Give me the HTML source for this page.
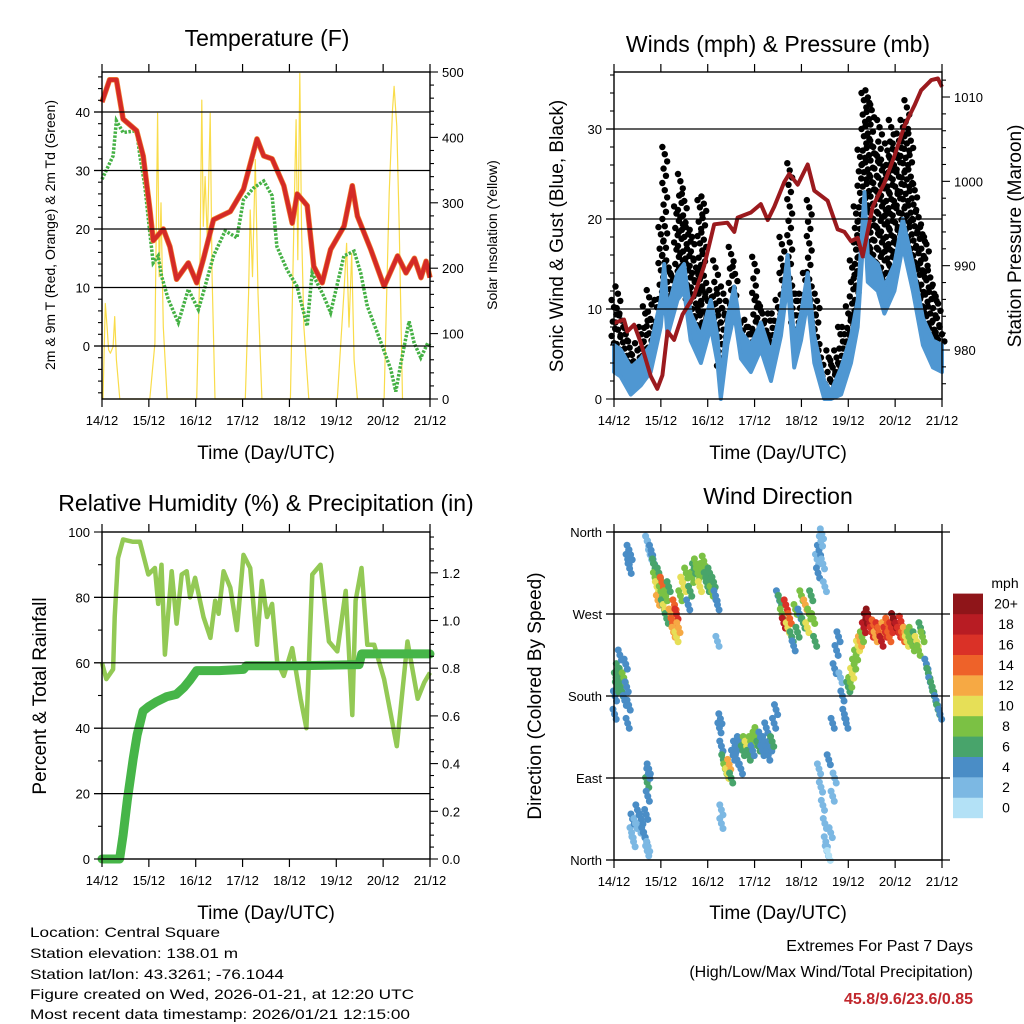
<!DOCTYPE html>
<html><head><meta charset="utf-8"><title>Station Meteogram</title>
<style>
html,body{margin:0;padding:0;background:#fff;}
svg{display:block;font-family:"Liberation Sans",Arial,sans-serif;}
</style></head>
<body>
<svg id="chart" xmlns="http://www.w3.org/2000/svg" width="1024" height="1024" viewBox="0 0 1024 1024">
<rect width="1024" height="1024" fill="#fff"/>
<text x="267" y="46" font-size="23" text-anchor="middle">Temperature (F)</text>
<text x="778" y="52" font-size="23" text-anchor="middle">Winds (mph) &amp; Pressure (mb)</text>
<text x="266" y="511" font-size="23" text-anchor="middle">Relative Humidity (%) &amp; Precipitation (in)</text>
<text x="778" y="504" font-size="23" text-anchor="middle">Wind Direction</text>
<text x="266" y="459" font-size="19" text-anchor="middle">Time (Day/UTC)</text>
<text x="778" y="459" font-size="19" text-anchor="middle">Time (Day/UTC)</text>
<text x="266" y="919" font-size="19" text-anchor="middle">Time (Day/UTC)</text>
<text x="778" y="919" font-size="19" text-anchor="middle">Time (Day/UTC)</text>
<text transform="translate(55,235) rotate(-90)" font-size="14" text-anchor="middle">2m &amp; 9m T (Red, Orange) &amp; 2m Td (Green)</text>
<text transform="translate(497,235) rotate(-90)" font-size="14" text-anchor="middle">Solar Insolation (Yellow)</text>
<text transform="translate(563,236) rotate(-90)" font-size="19" text-anchor="middle">Sonic Wind &amp; Gust (Blue, Black)</text>
<text transform="translate(1021,236) rotate(-90)" font-size="19" text-anchor="middle">Station Pressure (Maroon)</text>
<text transform="translate(46,696) rotate(-90)" font-size="19" text-anchor="middle">Percent &amp; Total Rainfall</text>
<text transform="translate(541,696) rotate(-90)" font-size="19" text-anchor="middle">Direction (Colored By Speed)</text>
<g font-size="14">
<text x="30" y="937" textLength="190" lengthAdjust="spacingAndGlyphs">Location: Central Square</text>
<text x="30" y="958" textLength="208" lengthAdjust="spacingAndGlyphs">Station elevation: 138.01 m</text>
<text x="30" y="979" textLength="254" lengthAdjust="spacingAndGlyphs">Station lat/lon: 43.3261; -76.1044</text>
<text x="30" y="999" textLength="384" lengthAdjust="spacingAndGlyphs">Figure created on Wed, 2026-01-21, at 12:20 UTC</text>
<text x="30" y="1019" textLength="380" lengthAdjust="spacingAndGlyphs">Most recent data timestamp: 2026/01/21 12:15:00</text>
</g>
<g font-size="16" text-anchor="end">
<text x="973" y="951">Extremes For Past 7 Days</text>
<text x="973" y="977">(High/Low/Max Wind/Total Precipitation)</text>
<text x="973" y="1004" fill="#c1272d" font-weight="bold">45.8/9.6/23.6/0.85</text>
</g>
</svg>
<script>
// ---------- data ----------
const dayLabels = ["14/12","15/12","16/12","17/12","18/12","19/12","20/12","21/12"];
const tempT = [0,3.9,7.4,10.8,17.7,21.1,24.5,26.2,31.4,34.8,38.2,44.2,48.5,51.9,57.1,65.7,72.5,79.4,82.8,87.1,93.1,97.4,100,105.1,108.5,112.8,117.1,124,128.2,130.8,137.7,144.5,151.4,155.7,160,163.4,166,168];
const tempV = [41.7,45.5,45.5,38.8,36.8,32.5,23.4,18,20,17,11.4,14.2,10.8,14.8,21.6,23,26.8,35.4,32.5,32,27.4,21,26,24,13.6,10.8,16.5,20.5,27.4,22.2,16.5,10.2,15.4,12.5,15,11.7,14.5,11.7];
const dewT = [0,5.7,7.4,10.8,17.7,19.4,21.9,24.5,26.2,28.8,30.5,33.9,39.1,44.2,49.4,52.8,57.1,63.1,69.1,72.5,77.6,82.8,87.1,89.6,94.8,99.9,105.1,107.6,113.6,117.1,123.9,129.1,132.5,135.9,141.1,147.9,150.5,153.1,157.3,159.9,163.3,166.8,168];
const dewV = [28.5,32.5,38.5,36.5,36.8,32.5,27.4,19.4,14.2,15.4,12,8,4,9.7,6.2,10.2,15.4,19.7,18.5,25,27,28.2,25.7,17,13,10.2,3.4,12.5,8.5,5.7,15.4,16.2,12.5,6.8,2.2,-4,-7.8,-2.9,4.2,0.5,-2,0.5,0];
const solarT = [0.5,1.7,2.6,3.4,4.3,5.7,6.5,7.4,9.1, 24.5,27.1,28.5,29.3,30.2,31.4,33.4, 48.5,50.2,51.1,51.9,52.8,54,55.4,56.4,57.9, 73.4,75.1,75.9,77.1,78.5,79.9,81.9, 96.5,98.6,99.4,100.3,101.3,102.2,103.4,105.9, 120.5,123.9,125.3,126.5,127.9,129.1,130.8, 144.5,147.1,148.8,149.6,151,152.2,153.9];
const solarV = [0,146,110,75,70,80,126,60,0, 0,85,437,187,300,110,0, 0,213,457,264,340,240,437,187,0, 0,162,289,187,366,162,0, 0,315,427,213,498,264,110,0, 0,162,238,110,223,60,0, 0,315,442,478,417,264,0];
const presT = [0,5.1,6.8,10.3,13.7,18.8,22.2,24.8,27.4,30.8,35.1,41,46.2,51.3,58.1,61.6,63.3,70.1,75.2,78.7,82.1,87.2,89.8,94.1,99.2,102.6,109.4,114.6,118,121.4,124.8,127.4,132.5,138.5,143.6,148.8,153.9,157.3,162.5,165.9,168];
const presV = [983.2,983.6,982.2,983,980.9,976.9,975.4,977,982.2,981.2,984.2,986.4,990,994.9,995.1,994,995.7,996.3,997.3,995.4,997,999.9,1000.9,999.6,1002,998.9,997.7,994.3,994,992.9,993.3,991.1,997,999.8,1003,1006.6,1009,1010.8,1012,1012.2,1011.2];
const windT = [0,3.4,8.6,13.7,18.8,23.9,25.7,27.4,32.5,35.9,39.3,44.5,49.6,53,54.7,58.1,61.6,65,70.1,75.2,80.4,85.5,88.9,92.3,95.8,99.2,102.6,107.7,111.1,116.3,121.4,124.8,128.3,130,135.1,138.5,143.6,147.9,153.1,158.2,163.4,168];
const windV = [6,5.5,3.5,4.5,6,11,15,10,14,15,9.5,7,11,7,2,9,12.5,7.5,6,8.5,5,10,16,6.5,9.5,14,7,2,0.8,3.5,7,11,23,16,15,12.5,15,20,15,9,6.5,6];
const gustV = [11,12.5,9.5,8,6.5,5,6.2,8,10.3,12.1,8.8,11,19.1,28,15.4,14,21.4,25,22.8,19.1,18.8,15.4,22.1,22.5,11.7,12.1,15.4,11.7,12.5,9.5,16.9,14.7,9.1,8.4,8.8,8,15.8,11.4,10.3,8.4,9.5,9.5,11,18,14.3,26.2,12.5,11.7,11.7,14,22.1,11,11.7,5.4,2.5,5.4,4.3,5.4,8,8,10.3,15.4,21.4,27.7,34,34.3,32.9,28,31,26.6,28.4,31,28.4,29.5,31,33.2,29.5,24,21,19.1,18,14.3,12.5,11.4,8];
const rhT = [0,2.2,5.7,6.5,8.2,10.8,15.9,19.4,23.7,27.1,28.8,30.5,32.2,35.7,38.2,40.8,43.4,45.1,47.7,52,55.5,58,59.7,62.3,65.7,69.1,72.5,75.9,79.4,81.9,84.5,87.1,89.7,93.1,97.4,101.7,104.7,107.7,111.9,116.2,120.5,124.8,128.2,129.9,132.9,135.9,139.4,144.5,151,156.5,161.7,165.1,168];
const rhV = [60,55,58,74,92,97.7,97,97,87,89,78,90,62.5,88,72,87,88,80,86,74,67.6,79,75,88,83,70,93,89,65.5,85,74,78,60.5,56,64.5,49,40,87,90,66.5,63.5,82,44,79,89,65.5,65.5,55,34.5,66.5,49,54,57];
const precT = [0,9,10.8,13,16,18,21,24,28,33,38,42,45,48.5,60,72.5,74,100,131.7,133,168];
const precV = [0,0,0.1,0.25,0.42,0.52,0.62,0.64,0.66,0.68,0.69,0.72,0.75,0.79,0.79,0.795,0.81,0.81,0.815,0.86,0.86];
const dirT = [0.3,0.5,1,1.5,2,2.5,3,3.5,4,5,5.5,6,6.5,7,7.5, 7,7.5,8,8.5, 9,9.5,10,11,12,13,14,15,16,16.5,17,17.5, 17,17.3,17.6,17.8, 17,18,18.5,19,20,20.5,21,
21,22,22.5,23,24,24.5,25,26,26.5,27,28,29,30,30.5,31,32,32,33,34,35,36,37,38,39,40,41,42,43,44,45,46,47,48,49,50,51,52,53, 53,
54,54.5,55,56,57,58,59,60,61,62,63,64,65,66,67,68,69,70,71,72,73,74,75,76,77,78,79,80,81,82,83, 55,55,
84,85,86,87,88,89,90,91,92,93,94,95,96,97,98,99,100,101,102,103,
104,104.5,105,106,106.5,107,108,105,106,107,108,108.5,109,110,111,112,113,110,112,
113,114,115,116,117,118,119,120, 121,122,123,124,125,126,127,
128,129,130,131,132,133,134,135,136,137,138,139,140,141,142,143,144,145,146,147,148,149,150,151,152,153,154,155,156,157,158,
160,161,162,163,164,165,166,167];
const dirV = [160,180,200,190,210,195,225,205,185,200,175,215,190,150,170, 330,340,320,335, 30,45,20,40,55,35,45,30,25,50,10,15, 85,70,95,100, 350,345,335,340,330,325,320,
310,300,285,315,295,305,280,275,290,265,300,270,260,250,280,245,270,255,290,305,300,315,280,295,310,320,325,315,300,320,328,310,300,315,295,305,290,280, 240,
145,155,125,110,100,95,105,90,115,125,110,130,100,120,130,125,115,130,120,135,140,125,135,120,130,145,115,125,130,150,165, 55,40,
290,285,270,260,280,255,265,245,235,275,250,270,290,260,280,255,270,290,265,240,
330,315,340,350,358,325,300,100,80,60,40,20,10,5,30,70,90,110,150,
210,230,245,200,180,160,150,190, 195,205,215,225,235,240,245,
255,265,270,260,250,258,245,255,250,240,255,250,260,245,255,265,260,255,250,262,245,250,240,245,250,235,245,240,230,255,245,
215,205,195,190,180,175,165,160];
const dirS = [4,4,5,6,5,6,4,6,6,7,4,4,4,4,3, 4,4,4,3, 2,3,2,2,3,2,4,4,3,4,2,2, 6,4,4,3, 2,2,2,4,4,5,6,
8,10,12,6,8,14,6,10,8,6,5,12,14,12,14,10,16,12,8,10,10,8,4,6,8,6,8,8,10,8,8,6,6,6,8,5,4,4, 2,
4,4,4,6,8,10,12,6,4,4,4,4,4,6,8,10,6,8,4,8,8,6,4,4,4,4,4,4,5,4,4, 2,2,
4,6,8,18,16,10,14,6,4,8,6,4,8,6,12,10,8,6,8,6,
2,4,4,1,1,2,2,1,1,2,1,1,1,0,1,2,2,4,4,
4,4,4,2,4,4,4,6, 8,10,8,8,10,12,8,
18,20,20,18,16,14,12,16,14,18,12,16,14,14,16,20,20,18,16,16,14,12,10,8,8,8,6,10,8,6,8,
4,6,4,6,6,4,6,4];
const speedBins = ["0","2","4","6","8","10","12","14","16","18","20+"];
const speedColors = ["#b3e1f6","#7cb8e3","#4a8dc6","#48a46b","#7bc144","#e6df57","#f6a944","#ee6229","#da3127","#b81c23","#8f1519"];

// ---------- helpers ----------
const NS = "http://www.w3.org/2000/svg";
const svg = document.getElementById('chart');
function el(tag, a, p){ const e=document.createElementNS(NS,tag); for(const k in a) e.setAttribute(k,a[k]); (p||svg).appendChild(e); return e; }
function grp(name){ const g=el('g',{}); 
  return g; }
function pathFrom(ts, vs, sx, sy){ let d=''; for(let i=0;i<ts.length;i++){ d+=(i?'L':'M')+sx(ts[i]).toFixed(1)+' '+sy(vs[i]).toFixed(1); } return d; }
function interp(ts, vs, t){ if(t<=ts[0]) return vs[0]; for(let i=1;i<ts.length;i++){ if(t<=ts[i]){ const f=(t-ts[i-1])/(ts[i]-ts[i-1]); return vs[i-1]+f*(vs[i]-vs[i-1]); } } return vs[vs.length-1]; }

function panelAxes(name, x0, x1, y0, y1, opts){
 const g = grp(name+'-axes');
 opts.grid.forEach(y=>{ const l=el('line',{x1:x0-(opts.gridExt||8),x2:x1+(opts.gridExtR||0),y1:y,y2:y,stroke:'#000','stroke-width':1.2},g);
  
   });
 const f=el('rect',{x:x0,y:y0,width:x1-x0,height:y1-y0,fill:'none',stroke:'#000','stroke-width':1.4},g);
 
 
 for(let i=0;i<8;i++){ const x=x0+i*(x1-x0)/7;
  const tb=el('line',{x1:x,x2:x,y1:y1,y2:y1+8,stroke:'#000','stroke-width':1.2},g);
  
  
  const tt=el('line',{x1:x,x2:x,y1:y0,y2:y0-8,stroke:'#000','stroke-width':1.2},g);
  
  
  const lb=el('text',{x:x,y:y1+26,'font-size':13,'text-anchor':'middle'},g); lb.textContent=dayLabels[i];
  
   }
 opts.left.forEach(tk=>{ const len=tk.major?8:4;
  const l=el('line',{x1:x0-len,x2:x0,y1:tk.y,y2:tk.y,stroke:'#000','stroke-width':1.1},g);
  
  
  if(tk.label!==undefined){ const t=el('text',{x:x0-12,y:tk.y+5,'font-size':13,'text-anchor':'end'},g); t.textContent=tk.label;
   
    } });
 (opts.right||[]).forEach(tk=>{ const len=tk.major?8:4;
  const l=el('line',{x1:x1,x2:x1+len,y1:tk.y,y2:tk.y,stroke:'#000','stroke-width':1.1},g);
  
  
  if(tk.label!==undefined){ const t=el('text',{x:x1+12,y:tk.y+5,'font-size':13,'text-anchor':'start'},g); t.textContent=tk.label;
   
    } });
}
function ticks(from,to,step,majorStep,sy,fmt){ const out=[]; const n=Math.round((to-from)/step); for(let i=0;i<=n;i++){ const v=from+i*step; const maj=Math.abs(v/majorStep-Math.round(v/majorStep))<1e-6; out.push({y:sy(v),major:maj,label:maj?fmt(v):undefined}); } return out; }

// ---------- panel 1: temperature ----------
const P1={x0:102,x1:430,y0:72,y1:399};
const sx1=t=>P1.x0+t/168*(P1.x1-P1.x0);
const sy1=v=>346-v*5.85;
const sr1=v=>P1.y1-v/500*(P1.y1-P1.y0);
const g1=grp('temperature-series');
const solar=el('path',{d:pathFrom(solarT,solarV,sx1,sr1),fill:'none',stroke:'#f9dc4a','stroke-width':1.2,'stroke-linejoin':'round'},g1);


const dew=el('path',{d:pathFrom(dewT,dewV,sx1,sy1),fill:'none',stroke:'#45b145','stroke-width':3.5,'stroke-dasharray':'2.5 1.5'},g1);


const t9=el('path',{d:pathFrom(tempT,tempV,sx1,sy1),fill:'none',stroke:'#f08030','stroke-width':5.5,'stroke-linejoin':'round'},g1);


const t2=el('path',{d:pathFrom(tempT,tempV,sx1,sy1),fill:'none',stroke:'#d42a27','stroke-width':4.2,'stroke-linejoin':'round'},g1);


panelAxes('temperature',P1.x0,P1.x1,P1.y0,P1.y1,{
 grid:[0,10,20,30,40].map(sy1),
 left:ticks(-8,46,2,10,sy1,v=>String(v)),
 right:ticks(0,500,20,100,sr1,v=>String(v))});

// ---------- panel 2: winds ----------
const P2={x0:614,x1:942,y0:72,y1:399};
const sx2=t=>P2.x0+t/168*(P2.x1-P2.x0);
const sy2=v=>P2.y1-v*9;
const sp2=v=>350-(v-980)*8.433;
const g2=grp('wind-series');
for(let i=0;i<gustV.length;i++){ const t=i*168/(gustV.length-1); const lo=Math.max(0,interp(windT,windV,t)-1); const hi=gustV[i];
 let j=0;
 for(let v=hi; v>=lo; v-=0.8){ const off=((j*7)%5-2)*1.2; j++;
  const c=el('circle',{cx:sx2(t)+off,cy:sy2(v),r:3.2,fill:'#000'},g2);
  
   } }
let bandD=''; for(let i=0;i<windT.length;i++){ bandD+=(i?'L':'M')+sx2(windT[i]).toFixed(1)+' '+sy2(windV[i]).toFixed(1); }
for(let i=windT.length-1;i>=0;i--){ bandD+='L'+sx2(windT[i]).toFixed(1)+' '+sy2(Math.max(0,windV[i]-3)).toFixed(1); }
const wb=el('path',{d:bandD+'Z',fill:'#4f97d2',stroke:'#4f97d2','stroke-width':4,'stroke-linejoin':'round'},g2);


const pl=el('path',{d:pathFrom(presT,presV,sx2,sp2),fill:'none',stroke:'#9b1a1e','stroke-width':4,'stroke-linejoin':'round'},g2);


panelAxes('winds',P2.x0,P2.x1,P2.y0,P2.y1,{
 grid:[10,20,30].map(sy2),
 left:ticks(0,36,2,10,sy2,v=>String(v)),
 right:ticks(976,1012,2,10,sp2,v=>String(v))});

// ---------- panel 3: humidity ----------
const P3={x0:102,x1:430,y0:532,y1:859};
const sx3=t=>P3.x0+t/168*(P3.x1-P3.x0);
const sy3=v=>P3.y1-v*(P3.y1-P3.y0)/100;
const sr3=v=>P3.y1-v/0.2*47.7;
const g3=grp('humidity-series');
const rh=el('path',{d:pathFrom(rhT,rhV,sx3,sy3),fill:'none',stroke:'#93c955','stroke-width':4.5,'stroke-linejoin':'round'},g3);


const pr=el('path',{d:pathFrom(precT,precV,sx3,sr3),fill:'none',stroke:'#46b548','stroke-width':9,'stroke-linejoin':'round','stroke-linecap':'round'},g3);


panelAxes('humidity',P3.x0,P3.x1,P3.y0,P3.y1,{
 grid:[20,40,60,80].map(sy3),
 left:ticks(0,100,10,20,sy3,v=>String(v)),
 right:ticks(0,1.35,0.05,0.2,sr3,v=>v.toFixed(1))});

// ---------- panel 4: wind direction ----------
const P4={x0:614,x1:942,y0:532,y1:860};
const sx4=t=>P4.x0+t/168*(P4.x1-P4.x0);
const sy4=d=>P4.y1-d/360*(P4.y1-P4.y0);
const dirLabels=["North","East","South","West","North"];
const g4=grp('direction-series');
function colorFor(s){ let i=Math.floor((s+1)/2); if(i<0)i=0; if(i>10)i=10; return speedColors[i]; }
for(let i=0;i<dirT.length;i++){
 for(let k=-1;k<=1;k++){ const c=el('circle',{cx:sx4(dirT[i])+k*1.6,cy:sy4(dirV[i])+k*5,r:3.5,fill:colorFor(dirS[i])},g4);
  
   } }
panelAxes('direction',P4.x0,P4.x1,P4.y0,P4.y1,{
 grid:[0,90,180,270,360].map(sy4), gridExt:8, gridExtR:8,
 left:[0,90,180,270,360].map((d,i)=>({y:sy4(d),major:true,label:dirLabels[i]}))});
const cb=grp('speed-colorbar');
const cbLab=el('text',{x:1005,y:588,'font-size':14,'text-anchor':'middle'},cb); cbLab.textContent='mph';


for(let i=0;i<speedBins.length;i++){ const y=818-(i+1)*20.4;
 const r=el('rect',{x:953,y:y,width:30,height:20.6,fill:speedColors[i]},cb);
 
 
 const t=el('text',{x:1006,y:y+15,'font-size':14,'text-anchor':'middle'},cb); t.textContent=speedBins[i];
 
  }
</script>
</body></html>
